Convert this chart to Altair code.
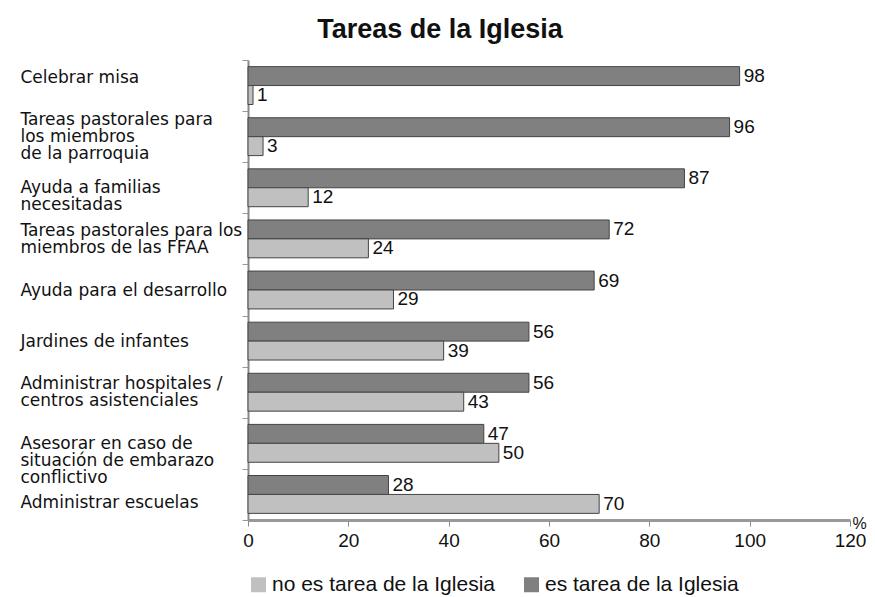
import altair as alt
import pandas as pd

categories = [
    "Celebrar misa",
    "Tareas pastorales para\nlos miembros\nde la parroquia",
    "Ayuda a familias\nnecesitadas",
    "Tareas pastorales para los\nmiembros de las FFAA",
    "Ayuda para el desarrollo",
    "Jardines de infantes",
    "Administrar hospitales /\ncentros asistenciales",
    "Asesorar en caso de\nsituación de embarazo\nconflictivo",
    "Administrar escuelas",
]
es_tarea = [98, 96, 87, 72, 69, 56, 56, 47, 28]
no_es_tarea = [1, 3, 12, 24, 29, 39, 43, 50, 70]
series = ["no es tarea de la Iglesia", "es tarea de la Iglesia"]
x_ticks = [0, 20, 40, 60, 80, 100, 120]

FONT = "Liberation Sans"
LABEL_FONT = "DejaVu Sans"
LINE_H = 17
UNIT = LINE_H / 2          # label line height; real lines separated by 1 spacer line
BASE = 2                   # constant upward shift in units
SP = "\u200b"              # invisible spacer line content (survives trimming)

# vertical nudge (in units) for each label block: layout/style only
nudges = [-1, 0, 1, 0, 0, 0, 0, 2, 1]
SEP = "\n" + SP + "\n"


def display_label(c, k):
    lines = c.split("\n")
    n = len(lines)
    blanks = k - (n - 1) + BASE
    return (SP + "\n") * blanks + SEP.join(lines)


disp = [display_label(c, k) for c, k in zip(categories, nudges)]

rows = []
for i, c in enumerate(categories):
    rows.append({"cat": disp[i], "serie": series[1], "val": es_tarea[i]})
    rows.append({"cat": disp[i], "serie": series[0], "val": no_es_tarea[i]})
df = pd.DataFrame(rows)

y_enc = alt.Y("cat:N", sort=disp, scale=alt.Scale(paddingInner=0, paddingOuter=0),
              axis=alt.Axis(title=None, labelAlign="left", labelPadding=222, labelFontSize=17,
                            labelFont=LABEL_FONT, labelColor="#111", labelLimit=300,
                            labelLineHeight=UNIT, labelOffset=-BASE * UNIT,
                            labelOverlap=False, labelBound=False,
                            labelExpr="split(datum.label, '\\n')",
                            tickBand="extent", tickSize=6, tickColor="#999",
                            domainColor="#888", domainWidth=2))
yoff = alt.YOffset("serie:N", sort=[series[1], series[0]],
                   scale=alt.Scale(paddingInner=0, paddingOuter=0.35))
x_enc = alt.X("val:Q", scale=alt.Scale(domain=[0, 120], nice=False),
              axis=alt.Axis(values=x_ticks, grid=False, title="%", titleX=604, titleY=8,
                            titleAlign="left", titleBaseline="alphabetic", titleFontSize=16,
                            titleFontWeight="normal", titleFont=FONT, titleColor="#111",
                            labelFontSize=19, labelFont=FONT, labelColor="#111",
                            labelFlush=False,
                            labelPadding=5, tickSize=6, tickColor="#888",
                            domainColor="#999", domainWidth=3))

bars = alt.Chart(df).mark_bar(stroke="#444", strokeWidth=1).encode(
    y=y_enc, yOffset=yoff, x=x_enc,
    color=alt.Color("serie:N", sort=series,
                    scale=alt.Scale(domain=series, range=["#c0c0c0", "#808080"]),
                    legend=alt.Legend(title=None, orient="bottom", direction="horizontal",
                                      symbolType="square", symbolSize=225, symbolStrokeWidth=0,
                                      labelFontSize=21, labelFont=FONT, labelColor="#111",
                                      labelLimit=400, labelOffset=3,
                                      columnPadding=26, offset=24)),
)
labels = alt.Chart(df).mark_text(align="left", baseline="middle", dx=4, fontSize=19,
                                 font=FONT, color="#111").encode(
    y=alt.Y("cat:N", sort=disp), yOffset=alt.YOffset("serie:N", sort=[series[1], series[0]]),
    x="val:Q", text="val:Q")

chart = (bars + labels).properties(
    width=602, height=460,
    title=alt.TitleParams("Tareas de la Iglesia", fontSize=27, font=FONT, fontWeight="bold",
                          color="#111", anchor="middle", frame="group", offset=7, dx=-109),
    autosize=alt.AutoSizeParams(type="none"),
    padding={"left": 240, "top": 52, "right": 17, "bottom": 75},
).configure_view(stroke=None)

chart.save("out.html", embed_options={"renderer": "svg", "actions": False})
